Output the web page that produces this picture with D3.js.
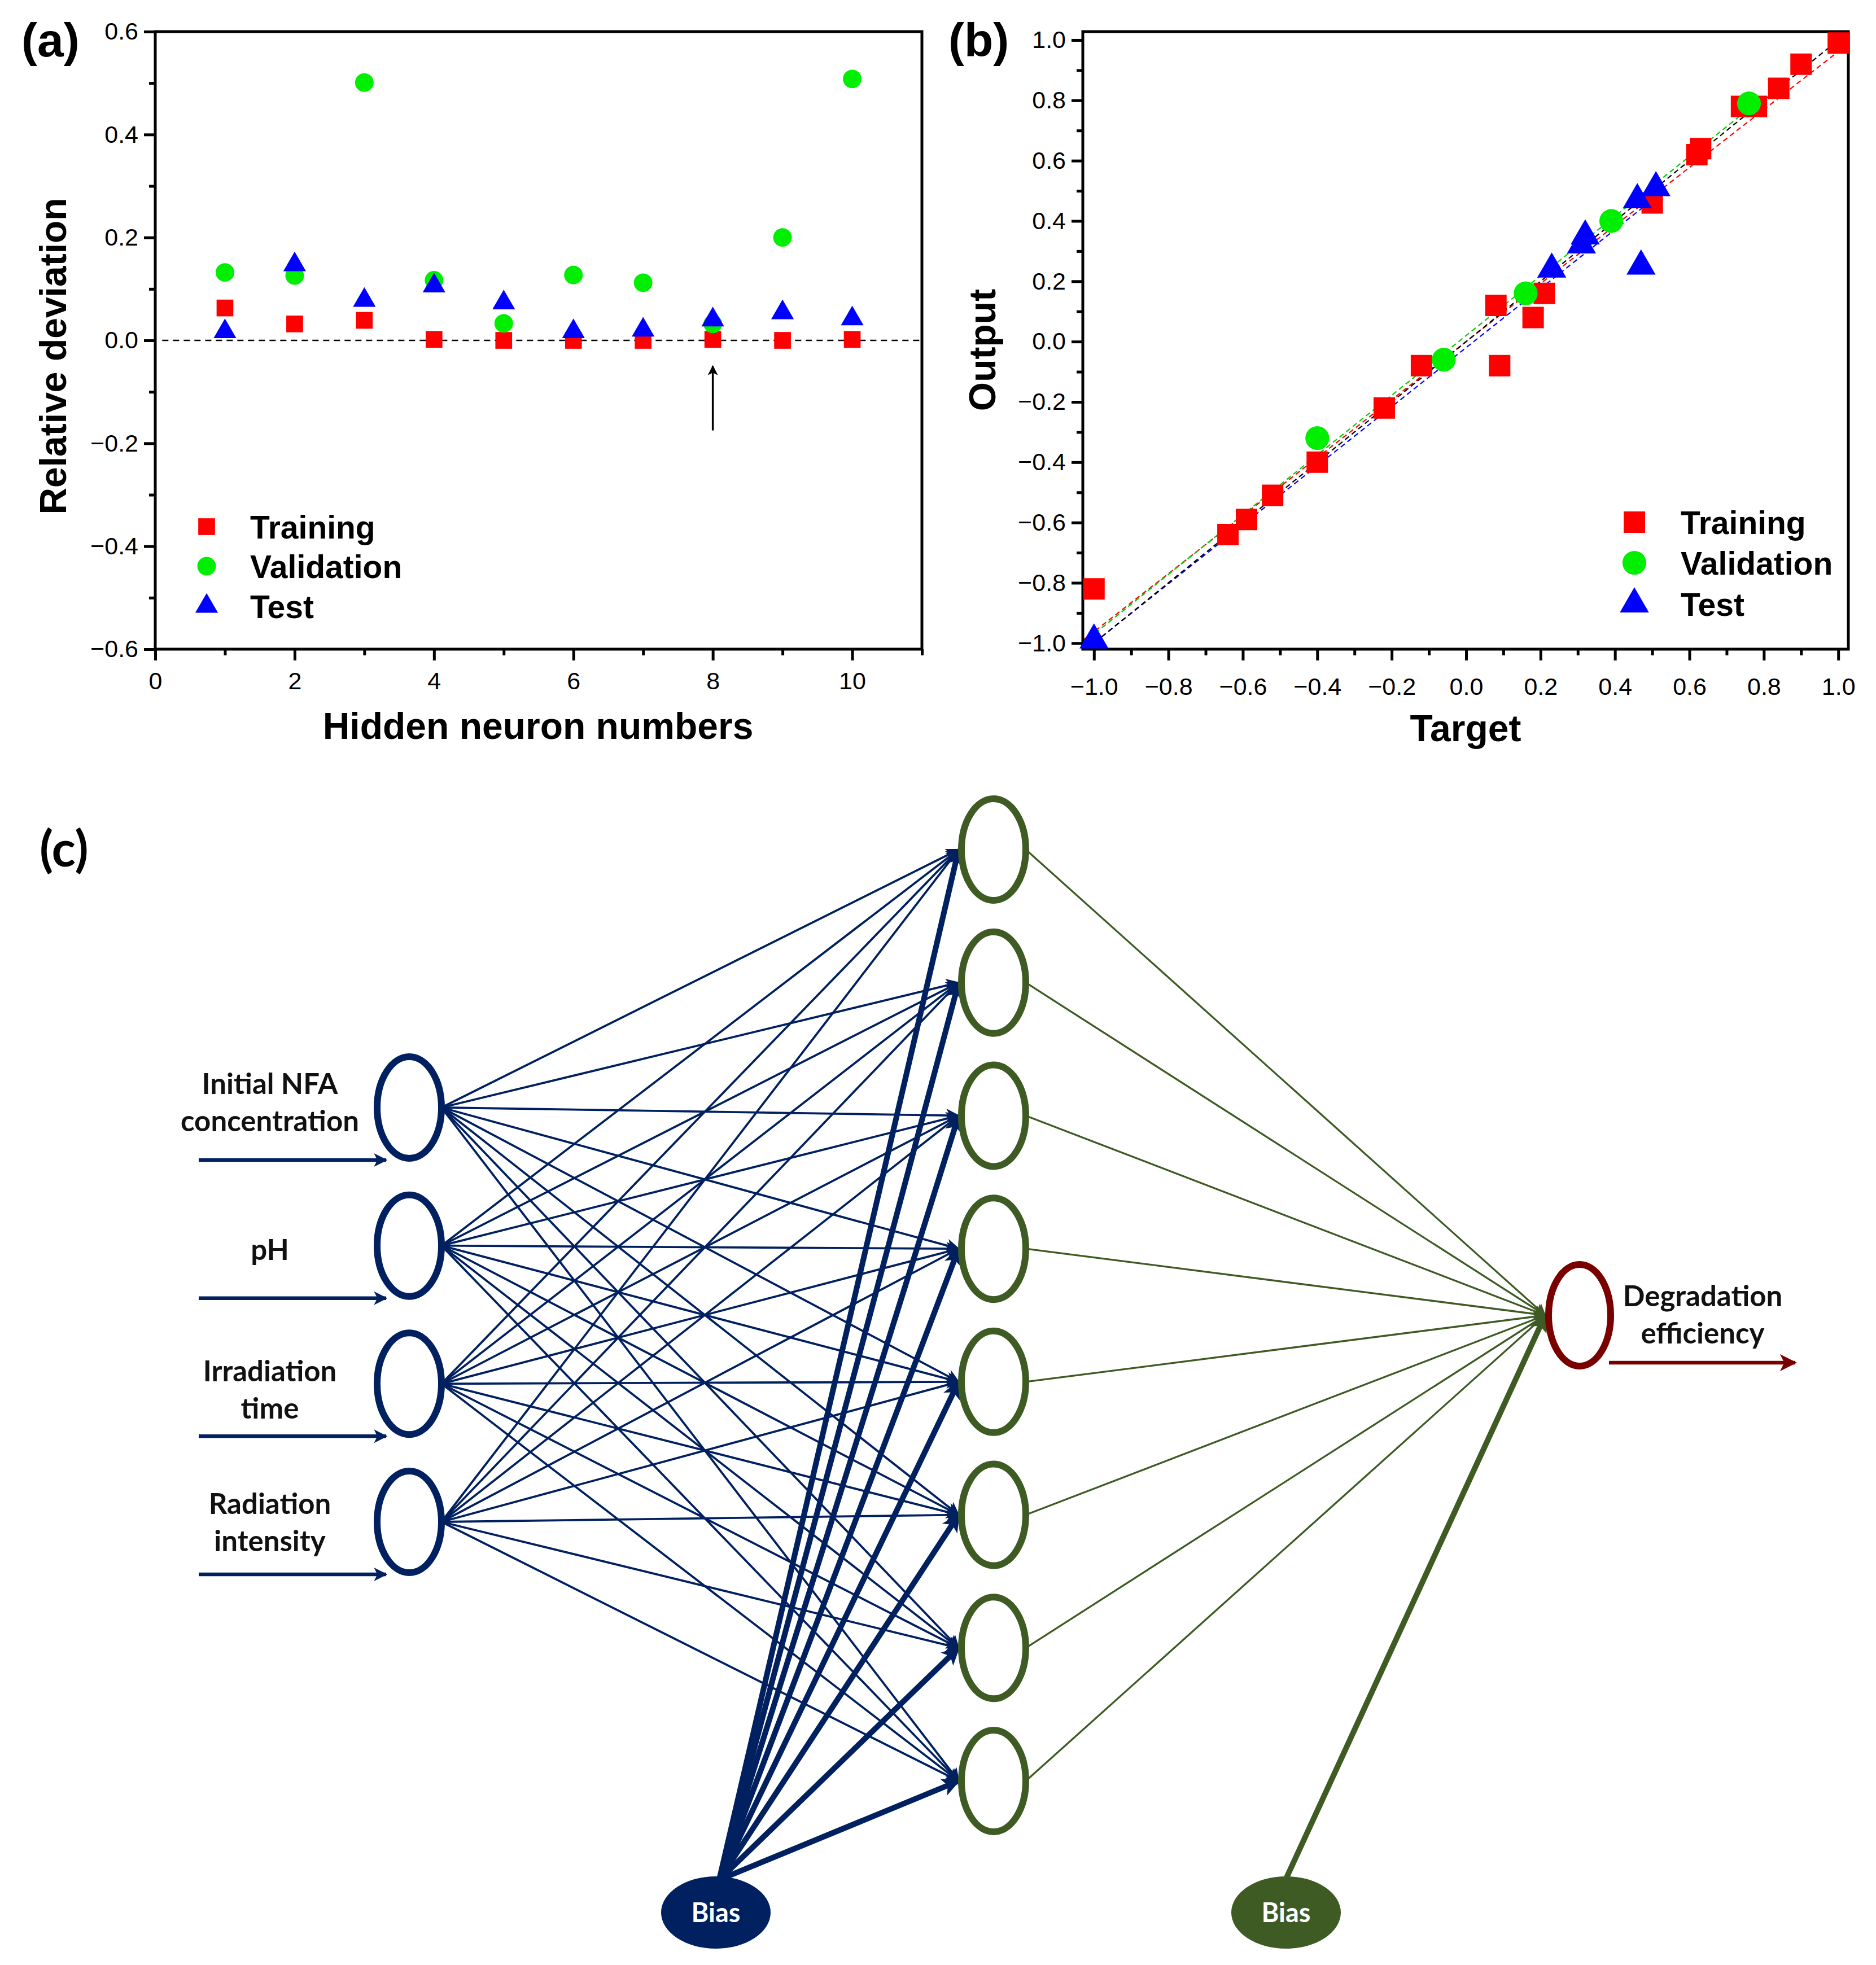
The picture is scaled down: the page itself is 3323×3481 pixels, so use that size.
<!DOCTYPE html>
<html><head><meta charset="utf-8">
<script src="https://cdn.jsdelivr.net/npm/d3@7"></script>
<style>body{margin:0;background:#fff}</style>
</head><body><svg id="fig"></svg>
<script>
// ---------------- DATA ----------------
// Panel (a): relative deviation vs hidden neuron numbers
const neurons = [1,2,3,4,5,6,7,8,9,10];
const devTraining   = [0.063,0.032,0.039,0.002,0.000,0.000,0.000,0.002,0.000,0.002];
const devValidation = [0.132,0.126,0.501,0.117,0.033,0.127,0.112,0.032,0.200,0.508];
const devTest       = [0.017,0.147,0.078,0.106,0.073,0.017,0.020,0.040,0.054,0.042];
const aXTicks = [0,2,4,6,8,10];
const aXMinor = [1,3,5,7,9,11];
const aYTicks = [-0.6,-0.4,-0.2,0,0.2,0.4,0.6];
const aYMinor = [-0.5,-0.3,-0.1,0.1,0.3,0.5];
const chosenNeurons = 8;

// Panel (b): output vs target
const trainTarget = [-1.00,-0.64,-0.59,-0.52,-0.40,-0.22,-0.12,0.08,0.09,0.18,0.21,0.50,0.62,0.63,0.74,0.78,0.84,0.90,1.00];
const trainOutput = [-0.82,-0.64,-0.59,-0.51,-0.40,-0.22,-0.08,0.12,-0.08,0.08,0.16,0.46,0.62,0.64,0.78,0.78,0.84,0.92,0.99];
const valTarget   = [-0.40,-0.06,0.16,0.39,0.76];
const valOutput   = [-0.32,-0.06,0.16,0.40,0.79];
const testTarget  = [-1.00,0.23,0.31,0.32,0.46,0.47,0.51];
const testOutput  = [-0.99,0.24,0.32,0.35,0.47,0.25,0.51];
const fitNames  = ["Ideal","Training","Validation","Test"];
const fitSlope  = [1.00,0.962,0.99,0.979];
const fitInter  = [0.00,0.000,0.02,-0.02];
const fitXEnd   = [1.03,1.00,0.78,0.52];
const bTicks = [-1.0,-0.8,-0.6,-0.4,-0.2,0.0,0.2,0.4,0.6,0.8,1.0];
const bMinor = [-0.9,-0.7,-0.5,-0.3,-0.1,0.1,0.3,0.5,0.7,0.9];

const seriesNames  = ["Training","Validation","Test"];
const seriesColors = ["#ff0000","#00ee00","#0000ff"];

// Panel (c): network
const inputLabels = [["Initial NFA","concentration"],["pH"],["Irradiation","time"],["Radiation","intensity"]];
const hiddenCount = 8;
const outputLabel = ["Degradation","efficiency"];
const biasLabel = "Bias";

// ---------------- SETUP ----------------
const W=3323, H=3481;
const FONT = "'Liberation Sans', Arial, Helvetica, sans-serif";
const DFONT = "Lato, 'Open Sans', sans-serif";
const svg = d3.select('#fig').attr('width',W).attr('height',H).attr('viewBox',`0 0 ${W} ${H}`);
svg.append('rect').attr('width',W).attr('height',H).attr('fill','#fff');
const defs = svg.append('defs');

function marker(id,color,len,wid){
  defs.append('marker').attr('id',id).attr('viewBox','0 0 10 10')
    .attr('refX',9).attr('refY',5).attr('markerUnits','userSpaceOnUse')
    .attr('markerWidth',len).attr('markerHeight',wid).attr('orient','auto')
    .append('path').attr('d','M0,0 L10,5 L0,10 L2.5,5 z').attr('fill',color);
}
const NAVY="#002060", GREEN="#3F5B24", DRED="#7A0000";
marker('mNavyThin',NAVY,32,24);
marker('mNavyThick',NAVY,42,32);
marker('mGreenThin',GREEN,30,22);
marker('mGreenThick',GREEN,42,32);
marker('mRed',DRED,38,30);
marker('mBlack',"#000",22,18);

const symSq = d3.symbol().type(d3.symbolSquare);
const symCi = d3.symbol().type(d3.symbolCircle);
const symTr = d3.symbol().type(d3.symbolTriangle);

function axes(g,x,y,xt,xm,yt,ym,fx,fy,xpad){
  const y0=y.range()[0], x0=x.range()[0];
  g.append('g').attr('transform',`translate(0,${y0})`)
    .call(d3.axisBottom(x).tickValues(xt).tickSize(20).tickPadding(xpad).tickFormat(fx));
  g.append('g').attr('transform',`translate(0,${y0})`)
    .call(d3.axisBottom(x).tickValues(xm).tickSize(11).tickFormat(''));
  g.append('g').attr('transform',`translate(${x0},0)`)
    .call(d3.axisLeft(y).tickValues(yt).tickSize(20).tickPadding(10).tickFormat(fy));
  g.append('g').attr('transform',`translate(${x0},0)`)
    .call(d3.axisLeft(y).tickValues(ym).tickSize(11).tickFormat(''));
  g.selectAll('.domain').remove();
  g.selectAll('.tick line').attr('stroke','#000').attr('stroke-width',5);
  g.selectAll('.tick text').attr('font-family',FONT).attr('font-size',43).attr('fill','#000');
  g.append('rect').attr('x',x.range()[0]).attr('y',y.range()[1])
    .attr('width',x.range()[1]-x.range()[0]).attr('height',y.range()[0]-y.range()[1])
    .attr('fill','none').attr('stroke','#000').attr('stroke-width',5);
}

function legend(g,x0,ys,sizes,tx){
  const syms=[symSq,symCi,symTr];
  seriesNames.forEach((n,i)=>{
    g.append('path').attr('d',syms[i].size(sizes[i])()).attr('transform',`translate(${x0},${ys[i]})`).attr('fill',seriesColors[i]);
    g.append('text').attr('x',x0+tx).attr('y',ys[i]).attr('dy','0.36em').text(n)
      .attr('font-family',FONT).attr('font-weight','bold').attr('font-size',57);
  });
}

// ---------------- PANEL (a) ----------------
{
  const g=svg.append('g');
  const x=d3.scaleLinear([0,11],[275,1633]);
  const y=d3.scaleLinear([-0.6,0.6],[1150,56]);
  axes(g,x,y,aXTicks,aXMinor,aYTicks,aYMinor,d3.format('d'),d3.format('.1f'),20);
  g.append('line').attr('x1',x(0.1)).attr('x2',x(11)).attr('y1',y(0)).attr('y2',y(0))
    .attr('stroke','#000').attr('stroke-width',2.5).attr('stroke-dasharray','11,8');
  const sz=[880,850,700];
  const sets=[devTraining,devValidation,devTest];
  const syms=[symSq,symCi,symTr];
  sets.forEach((s,i)=>{
    g.selectAll(null).data(neurons).enter().append('path')
      .attr('d',syms[i].size(sz[i])()).attr('fill',seriesColors[i])
      .attr('transform',(d,j)=>`translate(${x(d)},${y(s[j])})`);
  });
  g.append('line').attr('x1',x(chosenNeurons)).attr('x2',x(chosenNeurons))
    .attr('y1',y(-0.175)).attr('y2',y(-0.05)).attr('stroke','#000').attr('stroke-width',3.5)
    .attr('marker-end','url(#mBlack)');
  legend(g,366,[933,1003,1074],sz,77);
  g.append('text').attr('x',953).attr('y',1309).attr('text-anchor','middle').text('Hidden neuron numbers')
    .attr('font-family',FONT).attr('font-weight','bold').attr('font-size',66);
  g.append('text').attr('transform','translate(93,631) rotate(-90)').attr('dy','0.36em').attr('text-anchor','middle')
    .text('Relative deviation').attr('font-family',FONT).attr('font-weight','bold').attr('font-size',66);
  g.append('text').attr('x',38).attr('y',100).text('(a)').attr('font-family',FONT).attr('font-weight','bold').attr('font-size',84);
}

// ---------------- PANEL (b) ----------------
{
  const g=svg.append('g');
  const x=d3.scaleLinear([-1.03,1.027],[1918,3274]);
  const y=d3.scaleLinear([-1.02,1.028],[1150,56]);
  defs.append('clipPath').attr('id','clipB').append('rect')
    .attr('x',1918).attr('y',56).attr('width',3274-1918).attr('height',1150-56);
  const fitColors=["#000","#ff0000","#00cc00","#0000ff"];
  const lg=g.append('g').attr('clip-path','url(#clipB)');
  [1,2,3,0].forEach(i=>{
    const xs=[-1.05,fitXEnd[i]];
    lg.append('line').attr('x1',x(xs[0])).attr('y1',y(fitSlope[i]*xs[0]+fitInter[i]))
      .attr('x2',x(xs[1])).attr('y2',y(fitSlope[i]*xs[1]+fitInter[i]))
      .attr('stroke',fitColors[i]).attr('stroke-width',2.2).attr('stroke-dasharray','9,6');
  });
  axes(g,x,y,bTicks,bMinor,bTicks,bMinor,d3.format('.1f'),d3.format('.1f'),30);
  const sz=[1444,1400,1150];
  const sets=[[trainTarget,trainOutput],[valTarget,valOutput],[testTarget,testOutput]];
  const syms=[symSq,symCi,symTr];
  sets.forEach((s,i)=>{
    g.selectAll(null).data(s[0]).enter().append('path')
      .attr('d',syms[i].size(sz[i])()).attr('fill',seriesColors[i])
      .attr('transform',(d,j)=>`translate(${x(d)},${y(s[1][j])})`);
  });
  legend(g,2895,[925,997,1070],sz,82);
  g.append('text').attr('x',2596).attr('y',1313).attr('text-anchor','middle').text('Target')
    .attr('font-family',FONT).attr('font-weight','bold').attr('font-size',66);
  g.append('text').attr('transform','translate(1739,620) rotate(-90)').attr('dy','0.36em').attr('text-anchor','middle')
    .text('Output').attr('font-family',FONT).attr('font-weight','bold').attr('font-size',66);
  g.append('text').attr('x',1680).attr('y',100).text('(b)').attr('font-family',FONT).attr('font-weight','bold').attr('font-size',84);
}

// ---------------- PANEL (c) ----------------
{
  const g=svg.append('g');
  const layerX=d3.scaleLinear([0,1,2],[725,1760,2798]);
  const yIn=d3.scaleLinear([0,inputLabels.length-1],[1962,2696]);
  const yHid=d3.scaleLinear([0,hiddenCount-1],[1505,3155]);
  const yOut=2330;
  const rx=57, ry=90, sw=12;
  const xi=layerX(0), xh=layerX(1), xo=layerX(2);
  const inIdx=d3.range(inputLabels.length), hidIdx=d3.range(hiddenCount);
  const bias1={x:1268,y:3388}, bias2={x:2278,y:3388};

  // input -> hidden connections
  inIdx.forEach(i=>{
    g.selectAll(null).data(hidIdx).enter().append('line')
      .attr('x1',xi+rx).attr('y1',yIn(i)).attr('x2',xh-rx-5).attr('y2',d=>yHid(d))
      .attr('stroke',NAVY).attr('stroke-width',3.8).attr('marker-end','url(#mNavyThin)');
  });
  // bias1 -> hidden
  g.selectAll(null).data(hidIdx).enter().append('line')
    .attr('x1',bias1.x+6).attr('y1',bias1.y-58).attr('x2',xh-rx-5).attr('y2',d=>yHid(d))
    .attr('stroke',NAVY).attr('stroke-width',10).attr('marker-end','url(#mNavyThick)');
  // hidden -> output
  g.selectAll(null).data(hidIdx).enter().append('line')
    .attr('x1',xh+rx).attr('y1',d=>yHid(d)).attr('x2',xo-rx-4).attr('y2',yOut)
    .attr('stroke',GREEN).attr('stroke-width',3.3).attr('marker-end','url(#mGreenThin)');
  // bias2 -> output
  g.append('line').attr('x1',bias2.x).attr('y1',bias2.y-60).attr('x2',xo-rx-4).attr('y2',yOut)
    .attr('stroke',GREEN).attr('stroke-width',10).attr('marker-end','url(#mGreenThick)');

  // input arrows
  g.selectAll(null).data(inIdx).enter().append('line')
    .attr('x1',352).attr('x2',684).attr('y1',d=>yIn(d)+93).attr('y2',d=>yIn(d)+93)
    .attr('stroke',NAVY).attr('stroke-width',6.5).attr('marker-end','url(#mNavyThin)');
  // output arrow
  g.append('line').attr('x1',2850).attr('x2',3180).attr('y1',yOut+84).attr('y2',yOut+84)
    .attr('stroke',DRED).attr('stroke-width',6.5).attr('marker-end','url(#mRed)');

  // nodes
  g.selectAll(null).data(inIdx).enter().append('ellipse')
    .attr('cx',xi).attr('cy',d=>yIn(d)).attr('rx',rx).attr('ry',ry)
    .attr('fill','#fff').attr('stroke',NAVY).attr('stroke-width',sw);
  g.selectAll(null).data(hidIdx).enter().append('ellipse')
    .attr('cx',xh).attr('cy',d=>yHid(d)).attr('rx',rx).attr('ry',ry)
    .attr('fill','#fff').attr('stroke',GREEN).attr('stroke-width',sw);
  g.append('ellipse').attr('cx',xo).attr('cy',yOut).attr('rx',rx-2).attr('ry',ry)
    .attr('fill','#fff').attr('stroke',DRED).attr('stroke-width',sw);

  // bias nodes
  [[bias1,NAVY],[bias2,GREEN]].forEach(([b,c])=>{
    g.append('ellipse').attr('cx',b.x).attr('cy',b.y).attr('rx',97).attr('ry',64).attr('fill',c);
    g.append('text').attr('x',b.x).attr('y',b.y).attr('dy','0.36em').attr('text-anchor','middle')
      .text(biasLabel).attr('fill','#fff').attr('font-family',DFONT).attr('font-weight','bold').attr('font-size',47);
  });

  // input labels
  const labelBase=[[1938,2004],[2232],[2447,2513],[2682,2748]];
  inputLabels.forEach((lines,i)=>{
    lines.forEach((t,k)=>{
      g.append('text').attr('x',478).attr('y',labelBase[i][k]).attr('text-anchor','middle').text(t)
        .attr('font-family',DFONT).attr('font-weight','bold').attr('font-size',51).attr('fill','#111');
    });
  });
  outputLabel.forEach((t,k)=>{
    g.append('text').attr('x',3016).attr('y',[2314,2380][k]).attr('text-anchor','middle').text(t)
      .attr('font-family',DFONT).attr('font-weight','bold').attr('font-size',51).attr('fill','#111');
  });
  g.append('text').attr('x',70).attr('y',1535).text('(c)').attr('font-family',DFONT)
    .attr('font-weight','bold').attr('font-size',88);
}
</script></body></html>
